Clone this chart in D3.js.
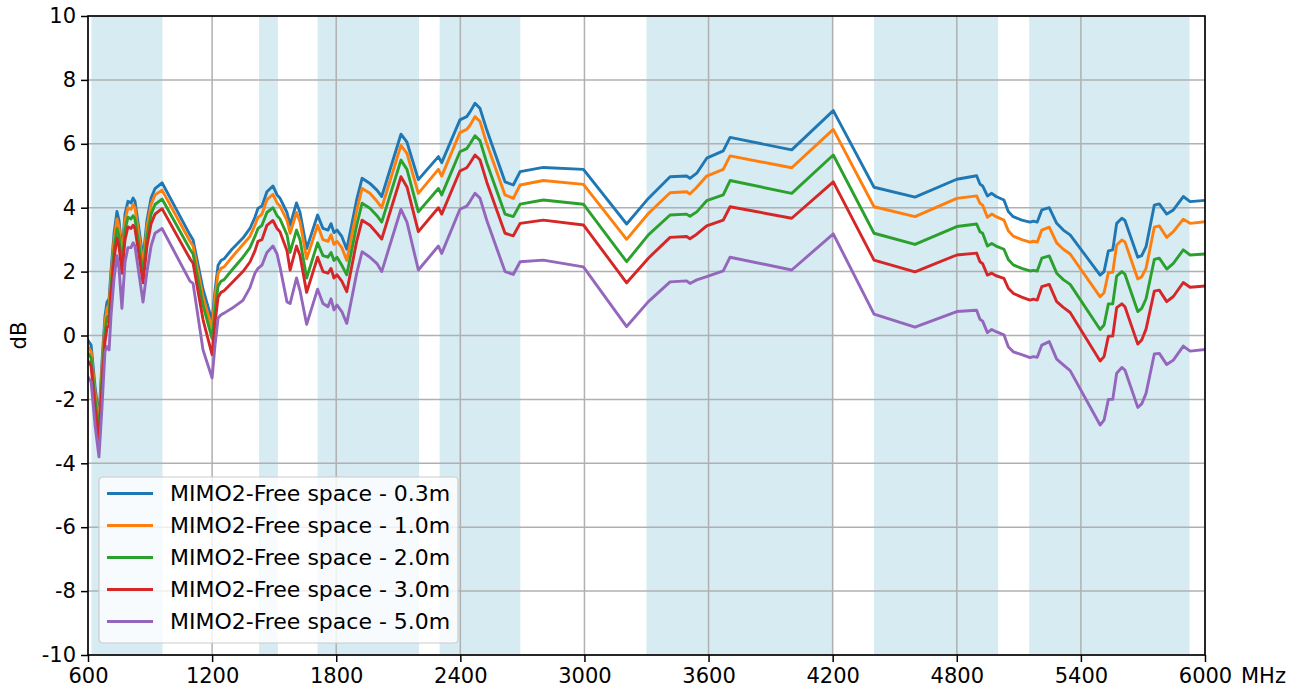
<!DOCTYPE html>
<html>
<head>
<meta charset="utf-8">
<script src="https://cdn.jsdelivr.net/npm/d3@7"></script>
<style>
  html, body { margin: 0; padding: 0; background: #ffffff; }
  svg text { font-family: "DejaVu Sans", sans-serif; fill: #000; }
</style>
</head>
<body>
<svg id="chart" width="1303" height="693"></svg>
<script>
// ---- data ----
const freqMHz = [600,615,634,653,668,682,692,702,711,726,740,750,764,779,793,808,818,827,847,866,885,905,924,958,1093,1108,1156,1200,1214,1229,1243,1258,1296,1349,1383,1407,1422,1441,1465,1494,1514,1528,1562,1577,1608,1625,1657,1710,1736,1760,1775,1789,1804,1827,1851,1899,1925,1963,1997,2020,2113,2142,2197,2294,2310,2398,2431,2447,2471,2495,2528,2616,2656,2689,2801,2995,3204,3309,3414,3494,3510,3543,3591,3671,3704,4002,4203,4400,4598,4800,4896,4912,4925,4948,4969,4990,5028,5049,5073,5114,5154,5170,5189,5211,5247,5283,5315,5348,5493,5512,5533,5554,5573,5598,5613,5675,5694,5715,5755,5779,5815,5847,5895,5928,6000];

const dist03 = [-0.15,-0.3,-1.6,-2.6,-0.8,0.6,1.05,1.15,2.0,3.2,3.88,3.6,2.6,3.8,4.2,4.15,4.3,4.2,3.3,2.4,3.6,4.3,4.6,4.78,3.15,2.99,1.45,0.45,1.4,2.2,2.35,2.4,2.7,3.05,3.35,3.7,3.98,4.05,4.5,4.68,4.4,4.3,3.85,3.45,4.15,3.85,2.72,3.77,3.35,3.3,3.5,3.22,3.3,3.1,2.7,4.25,4.92,4.76,4.55,4.35,6.3,6.05,4.88,5.6,5.41,6.75,6.85,7.0,7.27,7.11,6.43,4.81,4.71,5.13,5.26,5.2,3.49,4.29,4.97,4.99,4.92,5.08,5.55,5.78,6.2,5.81,7.04,4.64,4.33,4.89,5.0,4.74,4.68,4.37,4.45,4.35,4.24,3.88,3.72,3.61,3.55,3.58,3.55,3.93,4.0,3.51,3.3,3.15,1.89,2.0,2.65,2.68,3.51,3.67,3.6,2.45,2.5,2.78,4.08,4.12,3.8,3.93,4.35,4.19,4.23];

const dist10 = [-0.35,-0.5,-1.8,-2.8,-1.0,0.4,0.85,0.95,1.8,3.0,3.65,3.4,2.4,3.6,4.0,3.95,4.1,4.0,3.1,2.2,3.4,4.1,4.4,4.55,2.95,2.8,1.2,0.22,1.2,1.95,2.1,2.15,2.45,2.85,3.1,3.45,3.7,3.8,4.25,4.42,4.15,4.05,3.6,3.2,3.85,3.55,2.4,3.45,3.0,2.95,3.15,2.85,2.95,2.75,2.35,3.9,4.6,4.45,4.2,4.0,5.95,5.7,4.45,5.2,4.99,6.35,6.45,6.58,6.85,6.7,6.0,4.4,4.29,4.71,4.85,4.73,3.01,3.82,4.47,4.5,4.43,4.64,4.99,5.2,5.62,5.25,6.45,4.03,3.72,4.29,4.37,4.14,4.08,3.7,3.8,3.72,3.61,3.28,3.11,3.0,2.92,2.95,2.92,3.3,3.39,2.9,2.7,2.55,1.21,1.34,1.97,1.98,2.83,2.99,2.93,1.77,1.84,2.1,3.39,3.43,3.07,3.25,3.64,3.51,3.56];

const dist20 = [-0.55,-0.7,-2.0,-3.0,-1.3,0.1,0.55,0.65,1.5,2.7,3.35,3.1,2.15,3.3,3.7,3.65,3.75,3.65,2.8,1.95,3.1,3.8,4.1,4.27,2.7,2.55,0.95,-0.1,0.8,1.55,1.7,1.75,2.05,2.45,2.75,3.1,3.35,3.45,3.85,4.0,3.75,3.65,3.15,2.6,3.3,3.0,1.8,2.9,2.5,2.45,2.6,2.35,2.45,2.2,1.9,3.45,4.14,3.98,3.75,3.55,5.49,5.2,3.87,4.6,4.4,5.75,5.85,6.0,6.25,6.1,5.4,3.8,3.72,4.11,4.24,4.11,2.31,3.15,3.77,3.8,3.73,3.87,4.22,4.4,4.85,4.45,5.65,3.2,2.85,3.41,3.49,3.25,3.2,2.8,2.88,2.8,2.7,2.38,2.21,2.1,2.02,2.04,2.02,2.42,2.49,1.95,1.75,1.6,0.19,0.33,0.99,0.99,1.86,2.0,1.92,0.75,0.85,1.15,2.38,2.42,2.08,2.26,2.68,2.52,2.55];

const dist30 = [-0.8,-0.95,-2.3,-3.25,-1.6,-0.2,0.25,0.3,1.2,2.4,3.05,2.8,1.95,3.0,3.4,3.35,3.45,3.35,2.5,1.65,2.8,3.5,3.8,3.97,2.4,2.26,0.5,-0.6,0.4,1.2,1.35,1.4,1.65,2.0,2.3,2.65,2.95,3.0,3.45,3.6,3.35,3.25,2.65,2.05,2.8,2.5,1.35,2.45,2.0,1.95,2.1,1.8,1.9,1.7,1.37,2.95,3.61,3.45,3.2,3.02,4.97,4.65,3.25,4.0,3.8,5.15,5.25,5.4,5.65,5.5,4.8,3.2,3.12,3.51,3.61,3.46,1.65,2.42,3.07,3.1,3.03,3.17,3.43,3.61,4.03,3.67,4.81,2.36,1.99,2.52,2.58,2.31,2.25,1.89,1.95,1.87,1.79,1.48,1.32,1.2,1.11,1.14,1.11,1.53,1.6,1.06,0.88,0.72,-0.8,-0.66,-0.02,-0.02,0.87,0.99,0.9,-0.27,-0.14,0.2,1.39,1.42,1.06,1.22,1.66,1.51,1.55];

const dist50 = [-1.3,-1.45,-2.8,-3.8,-2.2,-0.5,-0.35,-0.45,0.6,1.8,2.5,2.1,0.85,2.3,2.75,2.75,2.9,2.8,1.9,1.05,2.0,2.8,3.2,3.35,1.7,1.63,-0.45,-1.33,-0.3,0.55,0.65,0.7,0.85,1.1,1.5,1.95,2.1,2.2,2.6,2.8,2.55,2.15,1.05,1.0,1.8,1.4,0.35,1.45,1.0,0.9,1.15,0.8,0.95,0.75,0.38,1.95,2.62,2.45,2.25,2.0,3.95,3.55,2.05,2.8,2.57,3.95,4.05,4.2,4.45,4.3,3.6,2.0,1.91,2.31,2.36,2.15,0.28,1.06,1.68,1.71,1.63,1.74,1.84,2.02,2.45,2.05,3.18,0.67,0.26,0.75,0.79,0.51,0.45,0.09,0.19,0.12,0.02,-0.35,-0.51,-0.6,-0.69,-0.66,-0.68,-0.3,-0.19,-0.74,-0.92,-1.1,-2.8,-2.65,-2.0,-2.0,-1.18,-1.0,-1.08,-2.25,-2.14,-1.81,-0.58,-0.56,-0.91,-0.77,-0.33,-0.49,-0.44];

const seriesNames = ["MIMO2-Free space - 0.3m","MIMO2-Free space - 1.0m","MIMO2-Free space - 2.0m","MIMO2-Free space - 3.0m","MIMO2-Free space - 5.0m"];
const seriesValues = [dist03, dist10, dist20, dist30, dist50];
const seriesColors = ["#1f77b4","#ff7f0e","#2ca02c","#d62728","#9467bd"];

const bandStart = [617, 1427, 1710, 2300, 3300, 4400, 5150];
const bandEnd   = [960, 1518, 2200, 2690, 4200, 5000, 5925];

const xTicks = [600,1200,1800,2400,3000,3600,4200,4800,5400,6000];
const yTicks = [-10,-8,-6,-4,-2,0,2,4,6,8,10];
const xUnit = "MHz";
const yLabel = "dB";

// ---- layout ----
const W = 1303, H = 693;
const margin = {left: 88, right: 98, top: 16, bottom: 38};
const plotW = W - margin.left - margin.right;
const plotH = H - margin.top - margin.bottom;
const FS = 21;
const LFS = 22;

const svg = d3.select("#chart");
const g = svg.append("g").attr("transform", `translate(${margin.left},${margin.top})`);

const x = d3.scaleLinear().domain([600, 6000]).range([0, plotW]);
const y = d3.scaleLinear().domain([-10, 10]).range([plotH, 0]);

g.append("clipPath").attr("id","clip").append("rect")
  .attr("x",0).attr("y",0).attr("width",plotW).attr("height",plotH);

// bands
g.append("g").selectAll("rect").data(bandStart.map((s,i)=>[s,bandEnd[i]])).join("rect")
  .attr("x", d => x(d[0])).attr("y", 0)
  .attr("width", d => x(d[1]) - x(d[0])).attr("height", plotH)
  .attr("fill", "#add8e6").attr("fill-opacity", 0.5);

// grid
const grid = g.append("g");
grid.selectAll("line.vx").data(xTicks).join("line")
  .attr("x1", d => x(d)).attr("x2", d => x(d)).attr("y1", 0).attr("y2", plotH)
  .attr("stroke", "#b0b0b0").attr("stroke-width", 1.5);
grid.selectAll("line.hy").data(yTicks).join("line")
  .attr("y1", d => y(d)).attr("y2", d => y(d)).attr("x1", 0).attr("x2", plotW)
  .attr("stroke", "#b0b0b0").attr("stroke-width", 1.5);

// lines
const line = d3.line().x((d,i) => x(freqMHz[i])).y(d => y(d));
const lg = g.append("g").attr("clip-path","url(#clip)");
seriesValues.forEach((vals, k) => {
  lg.append("path").datum(vals)
    .attr("d", line)
    .attr("fill","none")
    .attr("stroke", seriesColors[k])
    .attr("stroke-width", 2.9)
    .attr("stroke-linejoin","round")
    .attr("stroke-linecap","square");
});

// frame
g.append("rect").attr("x",0).attr("y",0).attr("width",plotW).attr("height",plotH)
  .attr("fill","none").attr("stroke","#000").attr("stroke-width",1.6);

// axes
const xAxis = g.append("g").attr("transform", `translate(0,${plotH})`)
  .call(d3.axisBottom(x).tickValues(xTicks).tickFormat(d => String(d)).tickSize(7).tickPadding(6));
const yAxis = g.append("g")
  .call(d3.axisLeft(y).tickValues(yTicks).tickFormat(d => String(d)).tickSize(7).tickPadding(5));
[xAxis, yAxis].forEach(a => {
  a.select(".domain").remove();
  a.selectAll(".tick line").attr("stroke","#000").attr("stroke-width",1.5);
  a.selectAll(".tick text").attr("font-size", FS).attr("font-family","DejaVu Sans").attr("fill","#000");
});

// unit label
g.append("text").attr("x", x(6000) + 36).attr("y", plotH + 13)
  .attr("dy","0.71em").attr("font-size", FS).text(xUnit);

// y label
svg.append("text")
  .attr("transform", `translate(18.5,${margin.top + plotH/2}) rotate(-90)`)
  .attr("text-anchor","middle").attr("dy","0.35em")
  .attr("font-size", FS).text(yLabel);

// legend
const leg = g.append("g").attr("transform", `translate(11,${plotH - 12 - 166})`);
leg.append("rect").attr("x",0).attr("y",0).attr("width",359).attr("height",166)
  .attr("rx",4).attr("ry",4)
  .attr("fill","#ffffff").attr("fill-opacity",0.8)
  .attr("stroke","#cccccc").attr("stroke-width",1.2);
seriesNames.forEach((name, k) => {
  const yy = 16.5 + k * 32;
  leg.append("line").attr("x1", 8).attr("x2", 54).attr("y1", yy).attr("y2", yy)
    .attr("stroke", seriesColors[k]).attr("stroke-width", 2.9);
  leg.append("text").attr("x", 71).attr("y", yy).attr("dy","0.36em")
    .attr("font-size", LFS).text(name);
});
</script>
</body>
</html>
